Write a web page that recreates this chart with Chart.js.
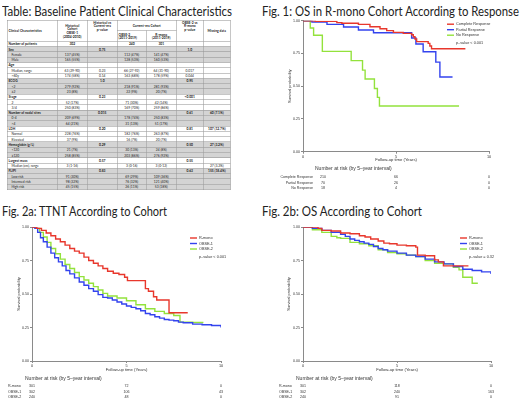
<!DOCTYPE html>
<html>
<head>
<meta charset="utf-8">
<script src="https://cdn.jsdelivr.net/npm/chart.js@4.4.1/dist/chart.umd.min.js"></script>
<style>
  body { margin: 0; background: #fff; width: 520px; height: 399px; overflow: hidden; position: relative; }
  .title { position: absolute; font-family: Lato, sans-serif; font-size: 13px; color: #222; white-space: nowrap; transform-origin: 0 0; }
  canvas { position: absolute; }
  /* table is laid out at 2x and scaled down, so tiny rows stay crisp */
  table { position: absolute; left: 7px; top: 20px; border-collapse: collapse; table-layout: fixed; width: 446px;
          transform: scale(0.5); transform-origin: 0 0;
          font-family: Lato, sans-serif; font-size: 6.6px; color: #222; }
  td { border: 1.2px solid #8c8c8c; padding: 0 2px; line-height: 7.4px; white-space: nowrap; text-align: center; }
  tbody tr { height: 10.6px; }
  td:first-child { text-align: left; }
  tr.g td { background: #d4d4d4; }
  tr.h td { font-weight: bold; }
  tr.s td:first-child { padding-left: 8px; }
  thead tr { height: 21px; }
  thead td { font-weight: bold; background: #fff; vertical-align: middle; }
</style>
</head>
<body>

<div class="title" data-w="230" style="left:2px; top:3px;">Table: Baseline Patient Clinical Characteristics</div>
<div class="title" data-w="257" style="left:262px; top:3px;">Fig. 1: OS in R-mono Cohort According to Response</div>
<div class="title" data-w="165" style="left:2px; top:203px;">Fig. 2a: TTNT According to Cohort</div>
<div class="title" data-w="160" style="left:262px; top:203px;">Fig. 2b: OS According to Cohort</div>

<table id="tbl">
  <colgroup>
    <col style="width:100px"><col style="width:60px"><col style="width:60px"><col style="width:58px">
    <col style="width:60px"><col style="width:54px"><col style="width:54px">
  </colgroup>
  <thead>
    <tr>
      <td rowspan="2" style="vertical-align:middle">Clinical Characteristics</td>
      <td rowspan="2">Historical<br>Cohort<br>OBSE-1<br>(2004-2010)</td>
      <td rowspan="2" style="vertical-align:top">Historical vs<br>Current-era<br>p-value</td>
      <td colspan="2">Current-era Cohort</td>
      <td rowspan="2" style="vertical-align:top">OBSE-2 vs<br>R-mono<br>p-value</td>
      <td rowspan="2">Missing data</td>
    </tr>
    <tr>
      <td>OBSE-2<br>(2011-2019)</td>
      <td>R-mono<br>(2011-2019)</td>
    </tr>
  </thead>
  <tbody id="tbody"></tbody>
</table>

<canvas id="fig1" width="260" height="182" style="left:260px; top:16px;"></canvas>
<canvas id="fig2a" width="260" height="183" style="left:0px; top:216px;"></canvas>
<canvas id="fig2b" width="260" height="183" style="left:260px; top:216px;"></canvas>

<script>
// squeeze the titles to the width they take in the original (narrow Calibri-like face)
document.querySelectorAll('.title').forEach(el => {
  const w = el.getBoundingClientRect().width;
  el.style.transform = 'scaleX(' + (Number(el.dataset.w) / w) + ')';
});

// ---- table rows: [label, OBSE-1, p hist vs current, OBSE-2, R-mono, p OBSE-2 vs R-mono, missing, kind, group]
const tableRows = [
  ['Number of patients', '302', '', '240', '301', '', '', 'h', 0],
  ['Sex', '', '0.75', '', '', '1.0', '', 'h', 1],
  ['Female', '137 (45%)', '', '112 (47%)', '141 (47%)', '', '', 's', 1],
  ['Male', '165 (55%)', '', '128 (53%)', '160 (53%)', '', '', 's', 1],
  ['Age', '', '', '', '', '', '', 'h', 0],
  ['Median, range', '63 (29-90)', '0.23', '66 (27-92)', '64 (31-90)', '0.017', '', 's', 0],
  ['>60y', '174 (58%)', '0.14', '163 (68%)', '178 (59%)', '0.044', '', 's', 0],
  ['ECOG', '', '1.0', '', '', '0.95', '', 'h', 1],
  ['<2', '279 (92%)', '', '218 (91%)', '281 (93%)', '', '', 's', 1],
  ['≥2', '23 (8%)', '', '22 (9%)', '20 (7%)', '', '', 's', 1],
  ['Stage', '', '0.23', '', '', '<0.001', '', 'h', 0],
  ['2', '52 (17%)', '', '71 (30%)', '42 (14%)', '', '', 's', 0],
  ['3/4', '250 (83%)', '', '169 (70%)', '259 (86%)', '', '', 's', 0],
  ['Number of nodal sites', '', '0.015', '', '', '0.61', '60 (7.1%)', 'h', 1],
  ['0-4', '209 (69%)', '', '178 (74%)', '250 (83%)', '', '', 's', 1],
  ['>4', '64 (21%)', '', '31 (13%)', '51 (17%)', '', '', 's', 1],
  ['LDH', '', '0.20', '', '', '0.81', '107 (12.7%)', 'h', 0],
  ['Normal', '228 (76%)', '', '182 (76%)', '263 (87%)', '', '', 's', 0],
  ['Elevated', '37 (9%)', '', '16 (7%)', '20 (7%)', '', '', 's', 0],
  ['Hemoglobin (g/L)', '', '0.29', '', '', '0.50', '27 (3.2%)', 'h', 1],
  ['<120', '21 (7%)', '', '30 (13%)', '24 (8%)', '', '', 's', 1],
  ['≥120', '258 (85%)', '', '203 (86%)', '276 (92%)', '', '', 's', 1],
  ['Largest mass', '', '0.57', '', '', '0.55', '', 'h', 0],
  ['Median (cm), range', '3 (1-16)', '', '3 (0-16)', '3 (0-12)', '', '27 (3.2%)', 's', 0],
  ['FLIPI', '', '0.83', '', '', '0.63', '155 (18.4%)', 'h', 1],
  ['Low risk', '91 (30%)', '', '69 (29%)', '109 (36%)', '', '', 's', 1],
  ['Intermed risk', '98 (32%)', '', '76 (32%)', '121 (40%)', '', '', 's', 1],
  ['High risk', '45 (15%)', '', '26 (11%)', '53 (18%)', '', '', 's', 1]
];

const tbody = document.getElementById('tbody');
tableRows.forEach(r => {
  const tr = document.createElement('tr');
  tr.className = (r[7] === 'h' ? 'h' : 's') + (r[8] ? ' g' : '');
  for (let i = 0; i < 7; i++) {
    const td = document.createElement('td');
    td.textContent = r[i];
    tr.appendChild(td);
  }
  tbody.appendChild(tr);
});

// ---- chart data
const riskTimes = [0, 5, 10];
const yTicks = [0, 0.25, 0.5, 0.75, 1];

// Fig 1: OS in R-mono by response
const f1CompleteT = [0, 0.66, 1.82, 2.09, 2.98, 3.6, 4.14, 4.5, 4.86, 5.39, 5.84, 5.93, 6.02, 6.11, 6.73, 6.82, 6.91, 8.73];
const f1CompleteS = [1, 0.995, 0.985, 0.98, 0.972, 0.954, 0.939, 0.924, 0.911, 0.903, 0.893, 0.878, 0.86, 0.84, 0.827, 0.807, 0.786, 0.786];
const f1PartialT = [0, 0.48, 1.29, 2.18, 2.98, 3.79, 5.84, 6.07, 6.46, 7.14, 7.36, 8.04];
const f1PartialS = [1, 0.99, 0.972, 0.952, 0.929, 0.908, 0.868, 0.822, 0.763, 0.684, 0.57, 0.57];
const f1NoneT = [0, 0.39, 0.57, 1.04, 2.59, 3.2, 3.34, 3.84, 4.0, 4.11, 8.39];
const f1NoneS = [1, 0.944, 0.889, 0.766, 0.695, 0.623, 0.555, 0.483, 0.415, 0.349, 0.349];
const f1RiskLabels = ['Complete Response', 'Partial Response', 'No Response'];
const f1Risk = [[210, 66, 0], [70, 26, 0], [18, 4, 0]];

// Fig 2a: TTNT by cohort
const f2aRmonoT = [0, 0.25, 0.5, 0.75, 1.0, 1.25, 1.5, 1.75, 2.0, 2.25, 2.5, 2.75, 3.0, 3.25, 3.5, 3.75, 4.0, 4.3, 4.6, 4.9, 5.05, 6.0, 6.16, 6.43, 6.6, 7.25, 8.24];
const f2aRmonoS = [1, 0.99, 0.975, 0.955, 0.935, 0.91, 0.89, 0.865, 0.84, 0.82, 0.805, 0.775, 0.75, 0.73, 0.71, 0.69, 0.67, 0.655, 0.645, 0.625, 0.6, 0.54, 0.52, 0.48, 0.455, 0.36, 0.36];
const f2aObse1T = [0, 0.15, 0.3, 0.45, 0.6, 0.8, 1.0, 1.2, 1.4, 1.6, 1.8, 2.0, 2.25, 2.5, 2.75, 3.0, 3.25, 3.5, 3.75, 4.0, 4.25, 4.5, 4.75, 5.0, 5.25, 5.5, 5.75, 6.0, 6.25, 6.5, 6.75, 7.0, 7.25, 7.5, 7.75, 8.0, 8.5, 9.0, 9.5, 10];
const f2aObse1S = [1, 0.99, 0.96, 0.92, 0.89, 0.85, 0.805, 0.77, 0.74, 0.71, 0.675, 0.65, 0.62, 0.59, 0.565, 0.54, 0.52, 0.495, 0.475, 0.47, 0.455, 0.44, 0.425, 0.41, 0.4, 0.39, 0.375, 0.355, 0.345, 0.33, 0.32, 0.31, 0.305, 0.3, 0.29, 0.285, 0.275, 0.27, 0.265, 0.25];
const f2aObse2T = [0, 0.2, 0.4, 0.6, 0.8, 1.0, 1.25, 1.5, 1.75, 2.0, 2.25, 2.5, 2.75, 3.0, 3.25, 3.5, 3.75, 4.0, 4.5, 5.0, 5.5, 6.0, 6.5, 7.0, 7.5, 7.83, 8.5, 9.07];
const f2aObse2S = [1, 0.99, 0.96, 0.925, 0.885, 0.84, 0.8, 0.76, 0.72, 0.69, 0.66, 0.63, 0.605, 0.58, 0.555, 0.53, 0.505, 0.485, 0.47, 0.45, 0.42, 0.39, 0.37, 0.355, 0.34, 0.29, 0.287, 0.287];
const f2aRisk = [[301, 72, 0], [302, 106, 43], [240, 48, 0]];

// Fig 2b: OS by cohort
const f2bRmonoT = [0, 0.8, 1.0, 1.5, 2.0, 2.5, 3.0, 3.3, 3.6, 4.0, 4.3, 4.6, 5.0, 5.5, 6.0, 6.09, 6.5, 7.0, 7.2, 7.47, 8.8];
const f2bRmonoS = [1, 0.99, 0.975, 0.97, 0.955, 0.95, 0.935, 0.925, 0.91, 0.895, 0.88, 0.875, 0.865, 0.86, 0.85, 0.79, 0.785, 0.755, 0.74, 0.71, 0.71];
const f2bObse1T = [0, 0.5, 1.0, 1.5, 2.0, 2.25, 2.5, 2.75, 3.0, 3.25, 3.5, 3.75, 4.0, 4.25, 4.5, 5.0, 5.5, 6.0, 6.5, 7.0, 7.5, 8.0, 8.5, 9.0, 9.5, 10];
const f2bObse1S = [1, 0.99, 0.975, 0.96, 0.945, 0.93, 0.91, 0.9, 0.89, 0.88, 0.87, 0.855, 0.84, 0.83, 0.82, 0.805, 0.79, 0.78, 0.76, 0.74, 0.725, 0.705, 0.685, 0.675, 0.665, 0.65];
const f2bObse2T = [0, 0.5, 1.0, 1.5, 1.8, 2.0, 2.5, 3.0, 3.5, 4.0, 4.5, 5.0, 5.5, 6.0, 6.5, 7.0, 7.5, 8.0, 8.3, 8.5, 9.0, 9.3];
const f2bObse2S = [1, 0.98, 0.96, 0.93, 0.92, 0.915, 0.885, 0.875, 0.86, 0.83, 0.81, 0.8, 0.79, 0.78, 0.75, 0.73, 0.725, 0.7, 0.68, 0.625, 0.58, 0.58];
const f2bRisk = [[301, 118, 0], [302, 240, 163], [240, 91, 0]];

const cohortLabels = ['R-mono', 'OBSE-1', 'OBSE-2'];
const RED = '#e8372c', BLUE = '#3343ee', GREEN = '#93e23c';
const AXIS = '#8a8a8a';
const FONT = "'Liberation Sans', Arial, sans-serif";

function pts(t, s) { return t.map((x, i) => ({ x: x, y: s[i] })); }
function ds(label, t, s, color) {
  return { label: label, data: pts(t, s), borderColor: color, borderWidth: 1.4, stepped: true, pointRadius: 0, fill: false };
}

// legend, p-value and number-at-risk block drawn against the chart's own scales
const kmExtras = {
  id: 'kmExtras',
  afterDraw(chart, args, o) {
    const ctx = chart.ctx, ca = chart.chartArea, xs = chart.scales.x;
    ctx.save();
    ctx.textBaseline = 'middle';
    // legend
    chart.data.datasets.forEach((d, i) => {
      const y = ca.top + o.legTop + i * 5.5;
      ctx.strokeStyle = d.borderColor; ctx.lineWidth = 1.4;
      ctx.beginPath(); ctx.moveTo(ca.right + o.legDx, y); ctx.lineTo(ca.right + o.legDx + 7, y); ctx.stroke();
      ctx.fillStyle = '#333'; ctx.font = '3.8px ' + FONT; ctx.textAlign = 'left';
      ctx.fillText(d.label, ca.right + o.legDx + 9, y);
    });
    ctx.fillText(o.pval, ca.right + o.legDx + 9, ca.top + o.legTop + 19);
    // number at risk
    const b = ca.bottom;
    ctx.font = '5px ' + FONT; ctx.fillStyle = '#333'; ctx.textAlign = 'left';
    ctx.fillText('Number at risk (by 5\u2013year interval)', ca.left + o.headDx, b + 17.3);
    ctx.font = '3.6px ' + FONT;
    o.labels.forEach((lab, r) => {
      const y = b + 25.3 + r * 5.5;
      ctx.textAlign = o.labAlign;
      ctx.fillText(lab, ca.left + o.labDx, y);
      ctx.textAlign = 'center';
      o.risk[r].forEach((v, k) => {
        let x = xs.getPixelForValue(riskTimes[k]);
        if (k === 0) x += o.firstDx;
        ctx.fillText(String(v), x, y);
      });
    });
    ctx.restore();
  }
};

function makeChart(id, datasets, pad, yWidth, extras) {
  return new Chart(document.getElementById(id), {
    type: 'line',
    data: { datasets: datasets },
    plugins: [kmExtras],
    options: {
      responsive: false, animation: false, devicePixelRatio: 1,
      layout: { padding: pad },
      plugins: { legend: { display: false }, tooltip: { enabled: false }, kmExtras: extras },
      scales: {
        x: {
          type: 'linear', min: 0, max: 10,
          afterFit: s => { s.height = 11; },
          ticks: { stepSize: 5, font: { family: FONT, size: 3.8 }, color: '#333', padding: 0.5, maxRotation: 0 },
          grid: { drawOnChartArea: false, drawTicks: true, tickLength: 2, color: AXIS },
          border: { color: AXIS, width: 1 },
          title: { display: true, text: 'Follow-up time (Years)', font: { family: FONT, size: 4.2 }, color: '#333', padding: 0 }
        },
        y: {
          min: 0, max: 1,
          afterFit: s => { s.width = yWidth; },
          afterBuildTicks: s => { s.ticks = yTicks.map(v => ({ value: v })); },
          ticks: { font: { family: FONT, size: 3.6 }, color: '#333', padding: 1, callback: v => v.toFixed(2) },
          grid: { drawOnChartArea: false, drawTicks: true, tickLength: 2, color: AXIS },
          border: { color: AXIS, width: 1 },
          title: { display: true, text: 'Survival probability', font: { family: FONT, size: 4 }, color: '#333', padding: 0 }
        }
      }
    }
  });
}

makeChart('fig1', [
  ds('Complete Response', f1CompleteT, f1CompleteS, RED),
  ds('Partial Response', f1PartialT, f1PartialS, BLUE),
  ds('No Response', f1NoneT, f1NoneS, GREEN)
], { left: 27, right: 31, top: 4.7, bottom: 35.3 }, 16,
  { legTop: 3.5, legDx: -42, pval: 'p\u2013value < 0.001', headDx: 12, labDx: 10, labAlign: 'right', firstDx: 20, labels: f1RiskLabels, risk: f1Risk });

makeChart('fig2a', [
  ds(cohortLabels[0], f2aRmonoT, f2aRmonoS, RED),
  ds(cohortLabels[1], f2aObse1T, f2aObse1S, BLUE),
  ds(cohortLabels[2], f2aObse2T, f2aObse2S, GREEN)
], { left: 16.6, right: 39, top: 11, bottom: 27 }, 15.4,
  { legTop: 11, legDx: -31, pval: 'p\u2013value < 0.001', headDx: -7, labDx: -24, labAlign: 'left', firstDx: 0, labels: cohortLabels, risk: f2aRisk });

makeChart('fig2b', [
  ds(cohortLabels[0], f2bRmonoT, f2bRmonoS, RED),
  ds(cohortLabels[1], f2bObse1T, f2bObse1S, BLUE),
  ds(cohortLabels[2], f2bObse2T, f2bObse2S, GREEN)
], { left: 26.6, right: 29, top: 11, bottom: 27 }, 16.4,
  { legTop: 11, legDx: -31, pval: 'p\u2013value = 0.32', headDx: -7, labDx: -24, labAlign: 'left', firstDx: 0, labels: cohortLabels, risk: f2bRisk });
</script>
</body>
</html>
